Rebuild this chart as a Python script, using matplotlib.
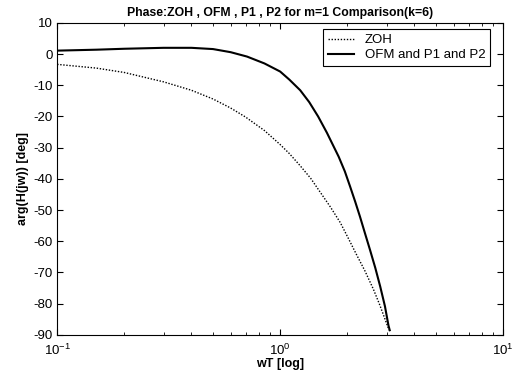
import numpy as np
import matplotlib
matplotlib.use('Agg')
import matplotlib.pyplot as plt

plt.rcParams['font.family'] = ['Liberation Sans', 'DejaVu Sans']
plt.rcParams['axes.unicode_minus'] = False

# values
zoh_wt = [0.1, 0.15, 0.2, 0.3, 0.4, 0.5, 0.6, 0.7, 0.85, 1.0, 1.1, 1.23, 1.37, 1.51, 1.68,
          1.86, 2.02, 2.19, 2.4, 2.62, 2.8, 3.0, 3.08]
zoh_deg = [-3.3, -4.5, -5.9, -8.9, -11.6, -14.4, -17.3, -20.2, -24.5, -29.0, -31.9, -35.8, -39.8,
           -44.2, -49.0, -54.0, -59.0, -64.0, -69.5, -75.4, -80.5, -86.3, -88.5]

ofm_wt = [0.1, 0.15, 0.2, 0.3, 0.4, 0.5, 0.6, 0.71, 0.85, 1.0, 1.1, 1.23, 1.35, 1.48, 1.62,
          1.83, 1.95, 2.06, 2.17, 2.28, 2.4, 2.53, 2.67, 2.81, 2.95, 3.06, 3.1]
ofm_deg = [1.1, 1.4, 1.7, 2.0, 2.0, 1.6, 0.6, -0.8, -3.0, -5.6, -8.2, -11.6, -15.4, -20.0, -25.2,
           -32.9, -37.6, -42.5, -47.3, -52.1, -57.4, -62.8, -68.5, -74.5, -80.8, -87.0, -88.5]

fig = plt.figure(figsize=(5.15, 3.81), dpi=100)
ax = fig.add_axes([0.111, 0.121, 0.866, 0.819])

ax.plot(zoh_wt, zoh_deg, color='black', linestyle=(0, (1, 1.2)), linewidth=1.0, label='ZOH')
ax.plot(ofm_wt, ofm_deg, color='black', linestyle='-', linewidth=1.5, label='OFM and P1 and P2')

ax.set_xscale('log')
ax.set_xlim(0.1, 10)
ax.set_ylim(-90, 10)
ax.set_yticks(np.arange(-90, 11, 10))
ax.tick_params(which='both', direction='in', top=True, right=True, labelsize=9.5)
ax.tick_params(axis='y', pad=3)
ax.tick_params(axis='x', pad=6)
ax.tick_params(which='major', length=4)
ax.tick_params(which='minor', length=2)

ax.set_title('Phase:ZOH , OFM , P1 , P2 for m=1 Comparison(k=6)', fontsize=8.8, fontweight='bold', pad=5)
ax.set_xlabel('wT [log]', fontsize=9, fontweight='bold', labelpad=0)
ax.set_ylabel('arg(H(jw)) [deg]', fontsize=9, fontweight='bold', labelpad=3)

leg = ax.legend(loc='upper right', fontsize=9.5, fancybox=False, framealpha=1,
                edgecolor='black', handlelength=2.0, borderpad=0.35, labelspacing=0.2,
                borderaxespad=0.5, bbox_to_anchor=(0.985, 1.0))
leg.get_frame().set_linewidth(0.8)

fig.savefig('out.png', dpi=100)
